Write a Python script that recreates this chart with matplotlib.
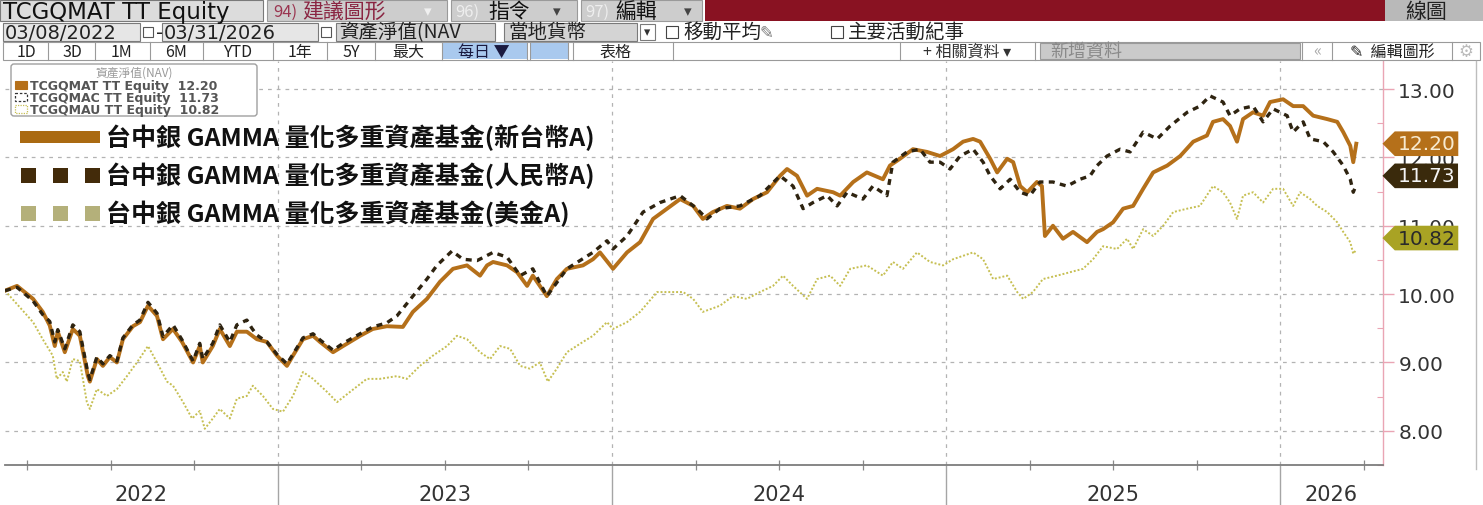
import matplotlib
matplotlib.use('Agg')
import matplotlib.pyplot as plt
from matplotlib.patches import Rectangle, FancyBboxPatch
from matplotlib.path import Path
import matplotlib.transforms as mtransforms

plt.rcParams['font.family'] = ['DejaVu Sans', 'Noto Sans CJK TC']
CJK = ['Noto Sans CJK TC', 'DejaVu Sans']

# ---------------- data (decimal years, NAV) ----------------
qmat_t = [2022.183, 2022.219, 2022.267, 2022.296, 2022.317, 2022.332, 2022.341, 2022.362, 2022.386, 2022.407,
          2022.431, 2022.437, 2022.458, 2022.476, 2022.497, 2022.518, 2022.536, 2022.566, 2022.587, 2022.611,
          2022.638, 2022.656, 2022.686, 2022.713, 2022.746, 2022.766, 2022.775, 2022.805, 2022.826, 2022.856,
          2022.877, 2022.907, 2022.937, 2022.967, 2022.997, 2023.027, 2023.045, 2023.075, 2023.105, 2023.126,
          2023.165, 2023.195, 2023.246, 2023.284, 2023.326, 2023.374, 2023.404, 2023.446, 2023.485, 2023.524,
          2023.566, 2023.605, 2023.626, 2023.644, 2023.686, 2023.716, 2023.746, 2023.763, 2023.805, 2023.835,
          2023.865, 2023.913, 2023.943, 2023.964, 2024.003, 2024.045, 2024.084, 2024.123, 2024.165, 2024.204,
          2024.243, 2024.272, 2024.302, 2024.344, 2024.383, 2024.422, 2024.464, 2024.503, 2024.524, 2024.554,
          2024.584, 2024.614, 2024.662, 2024.683, 2024.722, 2024.763, 2024.811, 2024.832, 2024.862, 2024.901,
          2024.943, 2024.982, 2025.021, 2025.051, 2025.081, 2025.102, 2025.132, 2025.153, 2025.183, 2025.201,
          2025.222, 2025.243, 2025.272, 2025.287, 2025.296, 2025.320, 2025.350, 2025.380, 2025.422, 2025.452,
          2025.470, 2025.500, 2025.530, 2025.560, 2025.590, 2025.620, 2025.662, 2025.701, 2025.740, 2025.781,
          2025.799, 2025.829, 2025.850, 2025.871, 2025.889, 2025.919, 2025.949, 2025.970, 2026.009, 2026.039,
          2026.069, 2026.099, 2026.141, 2026.171, 2026.189, 2026.210, 2026.219, 2026.228]
qmat_v = [10.05, 10.12, 9.93, 9.74, 9.54, 9.24, 9.45, 9.15, 9.49, 9.39,
          8.80, 8.72, 9.05, 8.95, 9.08, 9.00, 9.34, 9.53, 9.59, 9.83,
          9.68, 9.34, 9.49, 9.30, 9.00, 9.24, 9.00, 9.24, 9.49, 9.24,
          9.45, 9.45, 9.34, 9.30, 9.10, 8.95, 9.10, 9.34, 9.39, 9.30,
          9.15, 9.24, 9.39, 9.49, 9.53, 9.52, 9.74, 9.93, 10.18, 10.37,
          10.42, 10.27, 10.42, 10.47, 10.42, 10.32, 10.12, 10.27, 9.97, 10.22,
          10.37, 10.42, 10.51, 10.61, 10.37, 10.61, 10.76, 11.10, 11.25, 11.39,
          11.29, 11.10, 11.20, 11.29, 11.25, 11.39, 11.49, 11.73, 11.83, 11.73,
          11.44, 11.54, 11.49, 11.44, 11.64, 11.78, 11.68, 11.88, 11.98, 12.12,
          12.08, 12.02, 12.12, 12.23, 12.27, 12.23, 11.98, 11.78, 11.98, 11.93,
          11.58, 11.49, 11.64, 11.58, 10.85, 11.00, 10.81, 10.91, 10.76, 10.91,
          10.95, 11.05, 11.25, 11.29, 11.54, 11.78, 11.88, 12.02, 12.23, 12.32,
          12.52, 12.56, 12.46, 12.23, 12.56, 12.66, 12.61, 12.81, 12.85, 12.75,
          12.75, 12.61, 12.56, 12.52, 12.37, 12.17, 11.93, 12.20]

qmac_t = [2022.183, 2022.219, 2022.267, 2022.296, 2022.317, 2022.332, 2022.341, 2022.362, 2022.386, 2022.407,
          2022.431, 2022.437, 2022.458, 2022.476, 2022.497, 2022.518, 2022.536, 2022.566, 2022.587, 2022.611,
          2022.638, 2022.656, 2022.686, 2022.713, 2022.746, 2022.766, 2022.775, 2022.805, 2022.826, 2022.856,
          2022.877, 2022.907, 2022.922, 2022.937, 2022.967, 2022.997, 2023.027, 2023.045, 2023.075, 2023.105,
          2023.126, 2023.165, 2023.195, 2023.246, 2023.284, 2023.326, 2023.356, 2023.404, 2023.446, 2023.476,
          2023.521, 2023.554, 2023.596, 2023.644, 2023.686, 2023.725, 2023.763, 2023.805, 2023.865, 2023.943,
          2023.985, 2024.003, 2024.045, 2024.093, 2024.144, 2024.204, 2024.254, 2024.284, 2024.323, 2024.383,
          2024.443, 2024.503, 2024.542, 2024.572, 2024.602, 2024.644, 2024.674, 2024.704, 2024.751, 2024.781,
          2024.823, 2024.841, 2024.883, 2024.922, 2024.952, 2024.982, 2025.012, 2025.042, 2025.081, 2025.111,
          2025.132, 2025.162, 2025.192, 2025.222, 2025.251, 2025.281, 2025.320, 2025.362, 2025.401, 2025.431,
          2025.452, 2025.482, 2025.521, 2025.551, 2025.590, 2025.632, 2025.671, 2025.722, 2025.760, 2025.790,
          2025.829, 2025.850, 2025.880, 2025.919, 2025.949, 2025.979, 2026.021, 2026.039, 2026.069, 2026.090,
          2026.129, 2026.159, 2026.189, 2026.210, 2026.219, 2026.228]
qmac_v = [10.05, 10.10, 9.90, 9.70, 9.60, 9.30, 9.48, 9.20, 9.55, 9.45,
          8.85, 8.75, 9.08, 8.98, 9.10, 9.02, 9.36, 9.55, 9.62, 9.88,
          9.72, 9.38, 9.55, 9.33, 9.02, 9.28, 9.05, 9.28, 9.55, 9.30,
          9.55, 9.62, 9.50, 9.40, 9.30, 9.12, 8.98, 9.12, 9.36, 9.42,
          9.33, 9.18, 9.28, 9.42, 9.52, 9.58, 9.68, 9.97, 10.22, 10.42,
          10.63, 10.51, 10.49, 10.61, 10.54, 10.27, 10.37, 9.97, 10.37, 10.61,
          10.78, 10.66, 10.85, 11.20, 11.34, 11.44, 11.25, 11.10, 11.25, 11.29,
          11.44, 11.73, 11.58, 11.25, 11.34, 11.44, 11.29, 11.49, 11.39, 11.58,
          11.44, 11.93, 12.08, 12.12, 11.93, 11.93, 11.83, 12.02, 12.12, 11.93,
          11.73, 11.54, 11.68, 11.49, 11.44, 11.64, 11.64, 11.58, 11.68, 11.73,
          11.88, 12.02, 12.12, 12.08, 12.37, 12.27, 12.46, 12.66, 12.75, 12.90,
          12.81, 12.61, 12.71, 12.75, 12.52, 12.71, 12.61, 12.37, 12.52, 12.27,
          12.23, 12.08, 11.88, 11.68, 11.49, 11.60]

qmau_t = [2022.183, 2022.267, 2022.296, 2022.326, 2022.338, 2022.356, 2022.368, 2022.386, 2022.407, 2022.428,
          2022.437, 2022.458, 2022.488, 2022.518, 2022.548, 2022.578, 2022.611, 2022.638, 2022.668, 2022.686,
          2022.716, 2022.743, 2022.766, 2022.781, 2022.805, 2022.826, 2022.856, 2022.877, 2022.907, 2022.925,
          2022.955, 2022.985, 2023.015, 2023.045, 2023.075, 2023.105, 2023.147, 2023.177, 2023.216, 2023.266,
          2023.305, 2023.356, 2023.386, 2023.425, 2023.464, 2023.506, 2023.536, 2023.566, 2023.605, 2023.635,
          2023.665, 2023.695, 2023.725, 2023.754, 2023.784, 2023.808, 2023.835, 2023.865, 2023.913, 2023.943,
          2023.985, 2024.003, 2024.045, 2024.084, 2024.135, 2024.174, 2024.213, 2024.243, 2024.272, 2024.323,
          2024.362, 2024.404, 2024.443, 2024.482, 2024.512, 2024.542, 2024.584, 2024.614, 2024.653, 2024.683,
          2024.713, 2024.763, 2024.811, 2024.841, 2024.871, 2024.913, 2024.952, 2024.991, 2025.021, 2025.081,
          2025.111, 2025.141, 2025.183, 2025.213, 2025.231, 2025.260, 2025.290, 2025.332, 2025.371, 2025.410,
          2025.440, 2025.470, 2025.512, 2025.542, 2025.560, 2025.590, 2025.620, 2025.650, 2025.680, 2025.722,
          2025.760, 2025.799, 2025.829, 2025.850, 2025.871, 2025.889, 2025.919, 2025.949, 2025.979, 2026.009,
          2026.039, 2026.060, 2026.090, 2026.111, 2026.141, 2026.171, 2026.189, 2026.210, 2026.219, 2026.228]
qmau_v = [10.05, 9.59, 9.34, 9.10, 8.76, 8.86, 8.72, 9.05, 9.02, 8.42,
          8.32, 8.61, 8.51, 8.61, 8.80, 9.00, 9.24, 9.00, 8.72, 8.66,
          8.42, 8.18, 8.29, 8.03, 8.18, 8.32, 8.18, 8.47, 8.51, 8.66,
          8.51, 8.32, 8.28, 8.51, 8.86, 8.76, 8.57, 8.42, 8.57, 8.76,
          8.76, 8.80, 8.76, 8.95, 9.10, 9.24, 9.39, 9.34, 9.15, 9.05,
          9.24, 9.20, 8.95, 8.91, 9.00, 8.72, 8.91, 9.15, 9.30, 9.39,
          9.59, 9.49, 9.59, 9.74, 10.03, 10.03, 10.03, 9.93, 9.74, 9.83,
          9.97, 9.93, 10.03, 10.12, 10.27, 10.12, 9.93, 10.22, 10.27, 10.12,
          10.37, 10.42, 10.27, 10.47, 10.37, 10.61, 10.47, 10.42, 10.51, 10.61,
          10.51, 10.22, 10.27, 10.03, 9.93, 10.03, 10.22, 10.27, 10.32, 10.37,
          10.51, 10.70, 10.66, 10.81, 10.66, 10.95, 10.85, 11.00, 11.20, 11.25,
          11.29, 11.58, 11.49, 11.34, 11.10, 11.44, 11.49, 11.34, 11.54, 11.54,
          11.29, 11.49, 11.39, 11.29, 11.20, 11.05, 10.91, 10.76, 10.59, 10.65]

tickers = ['TCGQMAT TT Equity', 'TCGQMAC TT Equity', 'TCGQMAU TT Equity']
last_values = [12.20, 11.73, 10.82]
fund_names = ['台中銀 GAMMA 量化多重資產基金(新台幣A)',
              '台中銀 GAMMA 量化多重資產基金(人民幣A)',
              '台中銀 GAMMA 量化多重資產基金(美金A)']
y_ticks = [8, 9, 10, 11, 12, 13]
year_bounds = [2023, 2024, 2025, 2026]
year_labels = ['2022', '2023', '2024', '2025', '2026']
x_start, x_end = 2022.183, 2026.308

C_T = '#b5701a'
C_C = '#2e2310'
C_U = '#c6bf52'

# ---------------- figure ----------------
W, H = 1483, 506
fig = plt.figure(figsize=(W / 100, H / 100), dpi=100)
fig.patch.set_facecolor('white')

ax = fig.add_axes([5 / W, 1 - 466 / H, (1383 - 5) / W, (466 - 62) / H])
ax.set_facecolor('none')
ax.set_xlim(x_start, x_end)
ax.set_ylim(7.50, 13.41)

ax.plot(qmau_t, qmau_v, color=C_U, lw=1.4, ls=(0, (1, 1)), zorder=3)
ax.plot(qmat_t, qmat_v, color=C_T, lw=2.8, solid_joinstyle='round', zorder=4)
ax.plot(qmac_t, qmac_v, color=C_C, lw=2.4, ls=(0, (1.8, 1.6)), dash_capstyle='butt', zorder=5)

# axes styling
for s in ['top', 'left']:
    ax.spines[s].set_visible(False)
ax.spines['right'].set_color('#eaa5b4')
ax.spines['right'].set_linewidth(1.0)
ax.spines['bottom'].set_color('#7d7d7d')
ax.spines['bottom'].set_linewidth(1.3)

ax.yaxis.tick_right()
ax.set_yticks(y_ticks)
ax.set_yticklabels([f'{v:.2f}' for v in y_ticks])
ax.set_yticks([v + 0.5 for v in y_ticks[:-1]] + [7.5 + 0.0], minor=True)
ax.tick_params(axis='y', which='major', direction='out', length=8, width=1.0,
               color='#eaa5b4', labelsize=14.5, labelcolor='#333333', pad=3)
ax.tick_params(axis='y', which='minor', direction='in', length=4, width=0.8, color='#eaa5b4')

ax.set_xticks(year_bounds)
ax.set_xticklabels([''] * len(year_bounds))
quarters = [y + q for y in [2022, 2023, 2024, 2025, 2026] for q in (0.25, 0.5, 0.75)
            if x_start < y + q < x_end]
ax.set_xticks(quarters, minor=True)
ax.tick_params(axis='x', which='major', direction='out', length=29, width=1.0, color='#a5a5a5')
ax.tick_params(axis='x', which='minor', direction='inout', length=7, width=0.9, color='#8a8a8a')

ax.grid(axis='y', which='major', color='#b3b3b3', ls=(0, (3, 4)), lw=0.9)
ax.grid(axis='x', which='major', color='#b3b3b3', ls=(0, (3, 4)), lw=0.9)

btrans = mtransforms.blended_transform_factory(ax.transData, ax.transAxes)
bounds = [x_start] + year_bounds + [x_end]
for i, lab in enumerate(year_labels):
    mid = (bounds[i] + bounds[i + 1]) / 2
    ax.text(mid, -0.072, lab, transform=btrans, ha='center', va='center',
            fontsize=15, color='#333333')


# value tags
def tag_box(x0, y0, width, height, mutation_size):
    pad = 0.14 * mutation_size
    x0 -= pad
    y0 -= pad
    width += 2 * pad
    height += 2 * pad
    tip = height * 0.5
    verts = [(x0 - tip, y0 + height / 2), (x0, y0), (x0 + width, y0),
             (x0 + width, y0 + height), (x0, y0 + height), (x0 - tip, y0 + height / 2)]
    codes = [Path.MOVETO, Path.LINETO, Path.LINETO, Path.LINETO, Path.LINETO, Path.CLOSEPOLY]
    return Path(verts, codes)


tag_styles = [(C_T, '#f7ead0'), ('#3a2a0c', '#f4f4f4'), ('#a9a324', '#2a2a2a')]
for val, (fc, tc) in zip(last_values, tag_styles):
    ax.annotate(f'{val:.2f}', xy=(1.0, val), xycoords=('axes fraction', 'data'),
                xytext=(10.5, 0), textcoords='offset points', ha='left', va='center',
                fontsize=14.5, color=tc, zorder=10, annotation_clip=False,
                bbox=dict(boxstyle=tag_box, fc=fc, ec='none'))

# ---------------- overlay (toolbar, legends) in pixel coords ----------------
ov = fig.add_axes([0, 0, 1, 1], zorder=5)
ov.set_xlim(0, W)
ov.set_ylim(H, 0)
ov.axis('off')
ov.set_facecolor('none')


def box(x0, y0, x1, y1, fc, ec='#8a8a8a', lw=0.8):
    ov.add_patch(Rectangle((x0, y0), x1 - x0, y1 - y0, fc=fc, ec=ec, lw=lw))


def txt(x, y, s, size, color='black', ha='left', fam=CJK, weight='normal'):
    ov.text(x, y, s, fontsize=size, color=color, ha=ha, va='center', family=fam, weight=weight)


# row 1
box(0, 1, 263, 22, '#dcdcdc', ec='#7a7a7a')
txt(3, 12, 'TCGQMAT TT Equity', 16.5, '#111111', fam=['DejaVu Sans'])
box(267, 1, 447, 22, '#cdcdcd', ec='#9a9a9a')
txt(273, 12, '94)', 12, '#9a3550')
txt(302, 11.5, '建議圖形', 15, '#8a2542')
txt(428, 12, '▾', 11, '#f0f0f0', ha='center')
box(451, 1, 577, 22, '#cdcdcd', ec='#9a9a9a')
txt(455, 12, '96)', 12, '#eeeeee')
txt(488, 11.5, '指令', 15, '#111111')
txt(557, 12, '▾', 11, '#444444', ha='center')
box(581, 1, 702, 22, '#cdcdcd', ec='#9a9a9a')
txt(585, 12, '97)', 12, '#eeeeee')
txt(615, 11.5, '編輯', 15, '#111111')
txt(688, 12, '▾', 11, '#444444', ha='center')
box(705, 1, 1385, 22, '#891222', ec='none')
box(1385, 1, 1483, 22, '#b9b9b9', ec='none')
txt(1405, 11.5, '線圖', 15, '#222222')

# row 2
box(3, 24, 140, 42, '#e6e6e6', ec='#7a7a7a')
txt(5, 33, '03/08/2022', 14, '#222222', fam=['DejaVu Sans'])
box(143, 28, 153, 38, 'white', ec='#555555')
txt(156, 33, '-', 14, '#222222', fam=['DejaVu Sans'])
box(162, 24, 318, 42, '#e6e6e6', ec='#7a7a7a')
txt(164, 33, '03/31/2026', 14, '#222222', fam=['DejaVu Sans'])
box(321, 28, 331, 38, 'white', ec='#555555')
box(336, 24, 495, 42, '#d4d4d4', ec='#7a7a7a')
txt(339, 32.5, '資產淨值(NAV', 14, '#222222')
box(504, 24, 637, 42, '#d4d4d4', ec='#7a7a7a')
txt(508, 32.5, '當地貨幣', 14, '#222222')
box(640, 25, 655, 41, 'white', ec='#7a7a7a')
txt(647.5, 33, '▾', 9, '#333333', ha='center')
box(666, 27, 678, 39, 'white', ec='#444444')
txt(683, 32.5, '移動平均', 14, '#222222')
txt(760, 33, '✎', 12, '#777777', fam=['DejaVu Sans'])
box(831, 27, 843, 39, 'white', ec='#444444')
txt(848, 32.5, '主要活動紀事', 14, '#222222')

# row 3
box(3, 43, 1480, 61, 'white', ec='#9a9a9a')
box(442, 44, 527, 60, '#a9c9ee', ec='none')
box(530, 44, 568, 60, '#a9c9ee', ec='none')
box(1040, 44, 1300, 60, '#cacaca', ec='#9a9a9a')
for xs in [48, 95, 150, 203, 273, 327, 375, 442, 527, 530, 568, 573, 673, 900, 1035, 1302, 1332, 1452]:
    ov.plot([xs, xs], [43, 61], color='#9a9a9a', lw=0.8)
row3 = [(26, '1D'), (72, '3D'), (122, '1M'), (176, '6M'), (238, 'YTD'), (300, '1年'),
        (351, '5Y'), (408, '最大'), (615, '表格')]
for xc, s in row3:
    txt(xc, 52, s, 11.5, '#222222', ha='center')
txt(484, 52, '每日 ▼', 11.5, '#1a1a40', ha='center')
txt(967, 52, '+ 相關資料 ▾', 11.5, '#333333', ha='center')
txt(1050, 52, '新增資料', 13, '#8a8a8a')
txt(1317, 52, '«', 12, '#aaaaaa', ha='center')
txt(1392, 52, '✎  編輯圖形', 11.5, '#222222', ha='center')
txt(1466, 52, '⚙', 12, '#bbbbbb', ha='center')

# right frame line
ov.plot([1476, 1476], [62, 470], color='#bdbdbd', lw=1.0)

# small legend box
ov.add_patch(FancyBboxPatch((11, 65), 246, 52, boxstyle='round,pad=0,rounding_size=3',
                            fc='white', ec='#a0a0a0', lw=1.0))
txt(134, 73, '資產淨值(NAV)', 8.5, '#9a9a9a', ha='center')
icon_y = [86, 98, 110]
ov.add_patch(Rectangle((15, icon_y[0] - 4), 12, 8, fc=C_T, ec=C_T, lw=0.8))
ov.add_patch(Rectangle((15, icon_y[1] - 4), 12, 8, fc='none', ec='#333333', lw=0.9, ls=(0, (2, 1.5))))
ov.add_patch(Rectangle((15, icon_y[2] - 4), 12, 8, fc='none', ec=C_U, lw=0.9, ls=(0, (1, 1))))
for yy, tk, v in zip(icon_y, tickers, last_values):
    txt(30, yy, f'{tk}  {v:.2f}', 9, '#555555', fam=['DejaVu Sans'], weight='bold')

# large legend
leg_y = [138, 176, 214]
ov.add_patch(Rectangle((20, leg_y[0] - 6), 80, 12, fc='#aa6a12', ec='none'))
for x0 in [21, 53, 85]:
    ov.add_patch(Rectangle((x0, leg_y[1] - 7), 15, 15, fc='#432b0a', ec='none'))
    ov.add_patch(Rectangle((x0, leg_y[2] - 7), 15, 15, fc='#b4b07a', ec='none'))
for yy, name in zip(leg_y, fund_names):
    txt(106, yy, name, 18, '#111111', weight='bold')

fig.savefig('out.png', dpi=100, facecolor='white')
